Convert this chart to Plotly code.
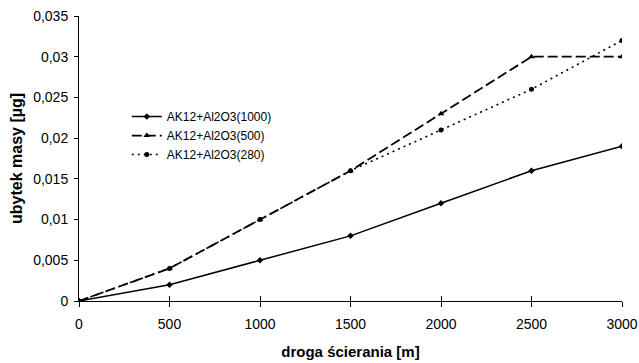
import plotly.graph_objects as go

droga = [0, 500, 1000, 1500, 2000, 2500, 3000]
s1000 = [0, 0.002, 0.005, 0.008, 0.012, 0.016, 0.019]
s500 = [0, 0.004, 0.010, 0.016, 0.023, 0.030, 0.030]
s280 = [0, 0.004, 0.010, 0.016, 0.021, 0.026, 0.032]
names = ["AK12+Al2O3(1000)", "AK12+Al2O3(500)", "AK12+Al2O3(280)"]
ytickvals = [0, 0.005, 0.01, 0.015, 0.02, 0.025, 0.03, 0.035]
yticktext = ["0", "0,005", "0,01", "0,015", "0,02", "0,025", "0,03", "0,035"]
xtickvals = [0, 500, 1000, 1500, 2000, 2500, 3000]

fnt = dict(family="Liberation Sans, Arial, sans-serif", size=14, color="black")

fig = go.Figure()
fig.add_trace(go.Scatter(x=droga, y=s1000, name=names[0], mode="lines+markers",
                         line=dict(color="black", width=1.5, dash="solid"),
                         marker=dict(symbol="diamond", size=5, color="black")))
fig.add_trace(go.Scatter(x=droga, y=s500, name=names[1], mode="lines+markers",
                         line=dict(color="black", width=1.8, dash="10px,4px"),
                         marker=dict(symbol="triangle-up", size=6, color="black")))
fig.add_trace(go.Scatter(x=droga, y=s280, name=names[2], mode="lines+markers",
                         line=dict(color="black", width=1.6, dash="2px,4px"),
                         marker=dict(symbol="circle", size=5, color="black")))
# invisible trace on overlay axis for inward tick marks
fig.add_trace(go.Scatter(x=droga, y=s1000, xaxis="x2", showlegend=False,
                         mode="markers", marker=dict(opacity=0), hoverinfo="skip"))

fig.update_layout(
    width=639, height=363,
    margin=dict(l=79, r=17, t=16, b=62),
    plot_bgcolor="white", paper_bgcolor="white",
    font=fnt,
    showlegend=True,
    legend=dict(x=0.088, y=0.698, xanchor="left", yanchor="top",
                bgcolor="rgba(0,0,0,0)", font=dict(size=12),
                tracegroupgap=0, itemwidth=30),
    xaxis=dict(range=[0, 3000], tickvals=xtickvals, ticks="outside", ticklen=5,
               tickcolor="black", showline=True, linecolor="black", linewidth=1,
               showgrid=False, zeroline=False, mirror=False, automargin=False,
               ticklabeloverflow="allow", ticklabelstandoff=5,
               title=dict(text="<b>droga ścierania [m]</b>", standoff=15, font=dict(size=15)),
               tickfont=dict(size=14)),
    xaxis2=dict(range=[0, 3000], overlaying="x", side="bottom", tickvals=xtickvals,
                ticks="inside", ticklen=5, tickcolor="black", showticklabels=False,
                showgrid=False, zeroline=False, showline=False, automargin=False),
    yaxis=dict(range=[0, 0.035], tickvals=ytickvals, ticktext=yticktext,
               ticks="outside", ticklen=4, tickcolor="black",
               showline=True, linecolor="black", linewidth=1,
               showgrid=False, zeroline=False, automargin=False,
               ticklabeloverflow="allow", ticklabelstandoff=3,
               title=dict(text="<b>ubytek masy [µg]</b>", standoff=6, font=dict(size=16)),
               tickfont=dict(size=14)),
)

fig.write_html("out.html", config={"displayModeBar": False},
               post_script="document.body.style.margin='0';document.body.style.overflow='hidden';")
